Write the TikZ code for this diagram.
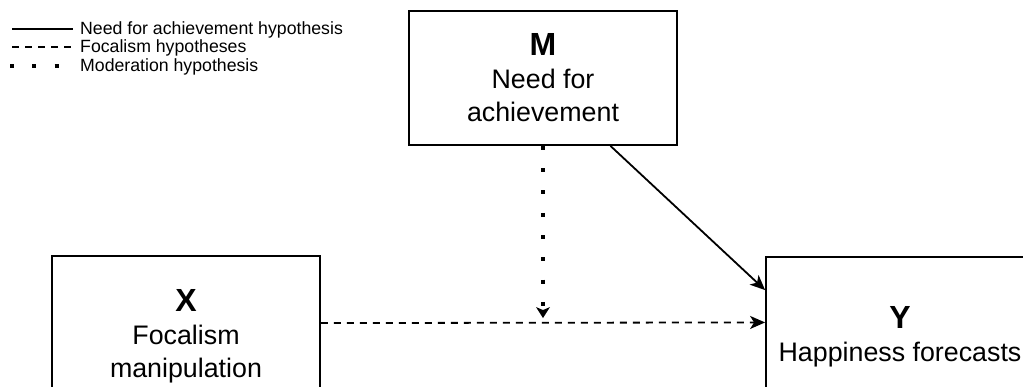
\documentclass[tikz,border=0pt]{standalone}
\usepackage{fontspec}
\setmainfont{Liberation Sans}
\usetikzlibrary{arrows.meta,calc}
\tikzset{
  varbox/.style={draw,line width=1.8pt,minimum width=268pt,minimum height=134pt,
    align=center,inner sep=0pt,font=\fontsize{26.8}{33}\selectfont},
  letter/.style={font=\fontsize{32}{34}\selectfont\bfseries},
  solidarr/.style={line width=1.8pt,-{Stealth[length=15pt,width=13pt,inset=4pt]}},
  dasharr/.style={solidarr,dash pattern=on 7pt off 6pt},
  dotarr/.style={line width=4pt,dash pattern=on 4pt off 18.3pt,
    -{Stealth[length=11pt,width=14pt,inset=3pt,line width=0pt]}},
  legtext/.style={anchor=west,inner sep=0pt,font=\fontsize{17.7}{20}\selectfont}
}
\begin{document}
\begin{tikzpicture}[x=1pt,y=-1pt]
\useasboundingbox (0,0) rectangle (1023,387);

\coordinate (s1) at (12,29);
\coordinate (s2) at (73,29);
\coordinate (d1) at (12,47);
\coordinate (d2) at (73,47);
\coordinate (p1) at (10,66);
\coordinate (p2) at (70,66);
\draw[line width=1.8pt] (s1) -- (s2);
\draw[line width=1.8pt,dash pattern=on 7pt off 6pt] (d1) -- (d2);
\draw[line width=4pt,dash pattern=on 4pt off 18.3pt] (p1) -- (p2);
\node[legtext] (ls) at (80,30) {Need for achievement hypothesis};
\node[legtext] (ld) at (80,48) {Focalism hypotheses};
\node[legtext] (lp) at (80,67) {Moderation hypothesis};

\node[varbox] (M) at (543,78) {{\fontsize{32}{34}\selectfont\bfseries M}\\Need for\\achievement};
\node[varbox,minimum height=160pt] (X) at (186,336) {{\fontsize{32}{34}\selectfont\bfseries X}\\Focalism\\manipulation};
\node[varbox,minimum height=160pt] (Y) at (900,337) {{\fontsize{32}{34}\selectfont\bfseries Y}\\Happiness forecasts};

\coordinate (xa) at ($(X.north east)!0.42!(X.south east)$);
\coordinate (ya) at ($(Y.north west)!0.41!(Y.south west)$);
\coordinate (yb) at ($(Y.north west)!0.21!(Y.south west)$);
\coordinate (mod) at ($(M.south |- xa)+(0,-5)$);
\draw[dasharr] (xa) -- (ya);
\draw[solidarr] ($(M.south)!0.5!(M.south east)$) -- (yb);
\draw[dotarr] (M.south) -- (mod);
\end{tikzpicture}
\end{document}
